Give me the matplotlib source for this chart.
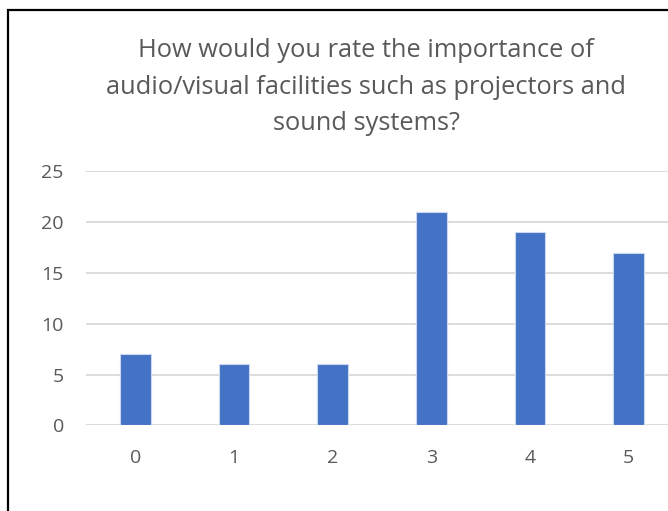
import matplotlib
matplotlib.use("Agg")
import matplotlib.pyplot as plt
from matplotlib.patches import Rectangle

categories = ["0", "1", "2", "3", "4", "5"]
values = [7, 6, 6, 21, 19, 17]
yticks = [0, 5, 10, 15, 20, 25]
title = "How would you rate the importance of\naudio/visual facilities such as projectors and\nsound systems?"

W, H = 668, 511
fig = plt.figure(figsize=(W / 100, H / 100), dpi=100)
plt.rcParams['font.family'] = ['Open Sans', 'DejaVu Sans']

# plot area in pixels
x0, x1 = 86, 678
ytop, ybot = 171.3, 425.3
ax = fig.add_axes([x0 / W, (H - ybot) / H, (x1 - x0) / W, (ybot - ytop) / H])

xs = list(range(len(categories)))
ax.bar(xs, values, width=0.313, color="#4472C4", edgecolor="#C9D7EF", linewidth=0.8, zorder=3)
ax.set_xlim(-0.5, len(categories) - 0.5)
ax.set_ylim(0, 25)
ax.set_yticks(yticks)
ax.set_xticks(xs)
ax.set_xticklabels(categories)
ax.yaxis.grid(True, color="#D9D9D9", linewidth=1.3, zorder=0)
ax.set_axisbelow(True)
for s in ax.spines.values():
    s.set_visible(False)
ax.tick_params(axis="both", length=0, colors="#595959", labelsize=14)
ax.tick_params(axis="y", pad=16)
ax.tick_params(axis="x", pad=17)

fig.text(366 / W, 1 - 87 / H, title, ha="center", va="center", fontsize=18.3,
         color="#595959", linespacing=1.62)

# chart border
fig.patches.append(Rectangle((8 / W, -0.1), 1.2, (H - 10) / H + 0.1, transform=fig.transFigure,
                             fill=False, edgecolor="black", linewidth=1.6, zorder=10))

fig.savefig("out.png", dpi=100, facecolor="white")
